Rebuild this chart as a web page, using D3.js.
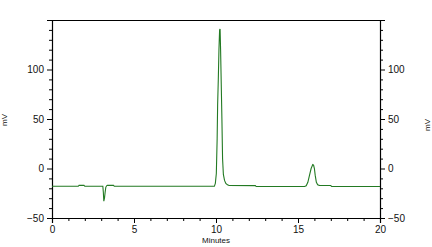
<!DOCTYPE html>
<html><head><meta charset="utf-8">
<script src="https://cdn.jsdelivr.net/npm/d3@7"></script>
<style>
html,body{margin:0;padding:0;background:#fff;}
svg{display:block;font-family:"Liberation Sans",Arial,sans-serif;}
</style></head>
<body><svg id="c" width="432" height="247"></svg>
<script>
// Chromatogram trace: retention time (minutes) and detector signal (mV)
const times = [0, 1.6, 1.65, 1.95, 2.0, 3.1, 3.13, 3.16, 3.2, 3.24, 3.28, 3.33, 3.38, 3.75, 3.8,
  9.9, 9.96, 10.02, 10.07, 10.1, 10.14, 10.18, 10.22, 10.25, 10.28, 10.32, 10.36, 10.4, 10.45, 10.52, 10.6, 10.7, 10.8,
  12.4, 12.45, 15.4, 15.5, 15.6, 15.7, 15.8, 15.9, 15.95, 16.0, 16.05, 16.12, 16.2, 16.3, 17.0, 17.05, 20];
const signal = [-18, -18, -17, -17, -18, -18, -24, -33, -30, -24, -19, -17.5, -17, -17, -18,
  -18, -15, -5, 30, 65, 90, 120, 140, 141, 120, 85, 50, 10, -6, -12, -15, -16.5, -17.2,
  -17.3, -18.2, -18.2, -17.5, -14, -7, 0, 4, 3.5, 0, -7, -14, -16.5, -17, -17.2, -18.2, -18.2];
const xMajorTicks = [0, 5, 10, 15, 20];
const yMajorTicks = [-50, 0, 50, 100];
const xLabel = "Minutes";
const yLabel = "mV";

const svg = d3.select("#c");
const L = 52, R = 380, T = 20, B = 218;
const x = d3.scaleLinear().domain([0, 20]).range([L, R]);
const y = d3.scaleLinear().domain([-50, 150]).range([B, T]);

const ink = "#000";
const fs = "10px";

// top border
svg.append("line").attr("x1", L).attr("x2", R).attr("y1", T + 0.5).attr("y2", T + 0.5)
  .attr("stroke", ink).attr("stroke-width", 1.2);

function styleAxis(g) {
  g.select(".domain").attr("stroke", ink).attr("stroke-width", 1.2);
  g.selectAll("line").attr("stroke", ink);
  g.selectAll("text").attr("font-size", fs).attr("fill", "#111");
}

const yMinor = d3.range(-50, 151, 10).filter(v => !yMajorTicks.includes(v));
const xMinor = d3.range(0, 21, 1).filter(v => !xMajorTicks.includes(v));

// left axis
const gl = svg.append("g").attr("transform", `translate(${L},0)`);
gl.call(d3.axisLeft(y).tickValues(yMajorTicks).tickSize(5).tickPadding(3));
gl.append("g").call(d3.axisLeft(y).tickValues(yMinor).tickSize(3).tickFormat("")).select(".domain").remove();
styleAxis(gl);

// right axis
const gr = svg.append("g").attr("transform", `translate(${R},0)`);
gr.call(d3.axisRight(y).tickValues(yMajorTicks).tickSize(5).tickPadding(3));
gr.append("g").call(d3.axisRight(y).tickValues(yMinor).tickSize(3).tickFormat("")).select(".domain").remove();
styleAxis(gr);

// bottom axis
const gb = svg.append("g").attr("transform", `translate(0,${B})`);
gb.call(d3.axisBottom(x).tickValues(xMajorTicks).tickSize(5).tickPadding(3));
gb.append("g").call(d3.axisBottom(x).tickValues(xMinor).tickSize(3).tickFormat("")).select(".domain").remove();
styleAxis(gb);

// axis titles
svg.append("text").attr("x", (L + R) / 2).attr("y", 243).attr("text-anchor", "middle")
  .attr("font-size", "8px").attr("fill", "#111").text(xLabel);
svg.append("text").attr("transform", "translate(7,120) rotate(-90)").attr("text-anchor", "middle")
  .attr("font-size", "8px").attr("fill", "#111").text(yLabel);
svg.append("text").attr("transform", "translate(430,125) rotate(-90)").attr("text-anchor", "middle")
  .attr("font-size", "8px").attr("fill", "#111").text(yLabel);

// trace
const pts = times.map((t, i) => [t, signal[i]]);
svg.append("path").datum(pts)
  .attr("fill", "none").attr("stroke", "#237a23").attr("stroke-width", 1.1)
  .attr("d", d3.line().x(d => x(d[0])).y(d => y(d[1])));
</script></body></html>
